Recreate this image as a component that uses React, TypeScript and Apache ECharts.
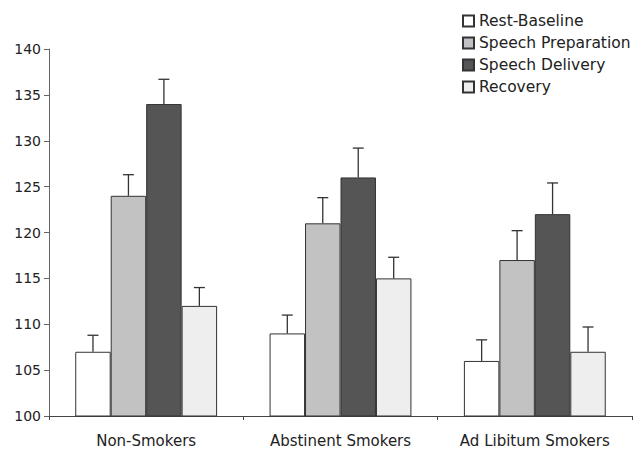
import React, { useEffect, useRef } from "react";
import * as echarts from "echarts";

const categories = ["Non-Smokers", "Abstinent Smokers", "Ad Libitum Smokers"];
const seriesNames = ["Rest-Baseline", "Speech Preparation", "Speech Delivery", "Recovery"];
const restBaseline = [107, 109, 106];
const speechPreparation = [124, 121, 117];
const speechDelivery = [134, 126, 122];
const recovery = [112, 115, 107];
const restErr = [1.8, 2.0, 2.3];
const prepErr = [2.3, 2.8, 3.2];
const deliveryErr = [2.7, 3.2, 3.4];
const recoveryErr = [2.0, 2.3, 2.7];
const yTicks = [100, 105, 110, 115, 120, 125, 130, 135, 140];

const colors = ["#ffffff", "#c2c2c2", "#555555", "#eeeeee"];
const FONT = "DejaVu Sans";
const CAT_GAP = 0.27;

export default function App() {
  const ref = useRef<HTMLDivElement>(null);
  useEffect(() => {
    if (!ref.current) return;
    const chart = echarts.init(ref.current, null, { renderer: "svg" });
    const values = [restBaseline, speechPreparation, speechDelivery, recovery];
    const errs = [restErr, prepErr, deliveryErr, recoveryErr];
    const errData: number[][] = [];
    values.forEach((arr, s) => {
      arr.forEach((v, c) => {
        errData.push([c, v, s, errs[s][c]]);
      });
    });
    const barSeries = seriesNames.map((name, i) => ({
      name,
      type: "bar",
      data: values[i],
      barGap: "0%",
      barCategoryGap: CAT_GAP * 100 + "%",
      itemStyle: { color: colors[i], borderColor: "#333333", borderWidth: 1 },
      z: 2,
    }));
    chart.setOption({
      animation: false,
      backgroundColor: "#ffffff",
      grid: { left: 49, right: 4, top: 49, bottom: 34 },
      legend: {
        data: seriesNames,
        orient: "vertical",
        left: 462,
        top: 13,
        padding: 0,
        itemWidth: 11,
        itemHeight: 11,
        itemGap: 6,
        icon: "rect",
        textStyle: { fontFamily: FONT, fontSize: 15.5, color: "#222222", lineHeight: 16 },
      },
      xAxis: {
        type: "category",
        data: categories,
        axisLine: { lineStyle: { color: "#444444", width: 1 } },
        axisTick: { show: true, length: 4, lineStyle: { color: "#444444" } },
        axisLabel: { fontFamily: FONT, fontSize: 15, color: "#222222", margin: 17, interval: 0 },
      },
      yAxis: {
        type: "value",
        min: yTicks[0],
        max: yTicks[yTicks.length - 1],
        interval: 5,
        splitLine: { show: false },
        axisLine: { show: true, lineStyle: { color: "#666666", width: 1 } },
        axisTick: { show: true, length: 5, lineStyle: { color: "#666666" } },
        axisLabel: { fontFamily: FONT, fontSize: 14, color: "#222222", margin: 8 },
      },
      series: [
        ...barSeries,
        {
          type: "custom",
          name: "errors",
          data: errData,
          z: 3,
          renderItem: (params: any, api: any) => {
            const c = api.value(0);
            const v = api.value(1);
            const s = api.value(2);
            const e = api.value(3);
            const band = api.size([1, 0])[0];
            const bw = (band * (1 - CAT_GAP)) / 4;
            const base = api.coord([c, v]);
            const top = api.coord([c, v + e]);
            const x = base[0] + (s - 1.5) * bw;
            const cap = 5.5;
            const st = { stroke: "#333333", lineWidth: 1.3 };
            return {
              type: "group",
              children: [
                { type: "line", shape: { x1: x, y1: base[1], x2: x, y2: top[1] }, style: st },
                { type: "line", shape: { x1: x - cap, y1: top[1], x2: x + cap, y2: top[1] }, style: st },
              ],
            };
          },
        },
      ],
    });
    return () => chart.dispose();
  }, []);
  return (
    <div
      ref={ref}
      style={{ position: "fixed", left: 0, top: 0, width: 636, height: 450, background: "#fff" }}
    />
  );
}
